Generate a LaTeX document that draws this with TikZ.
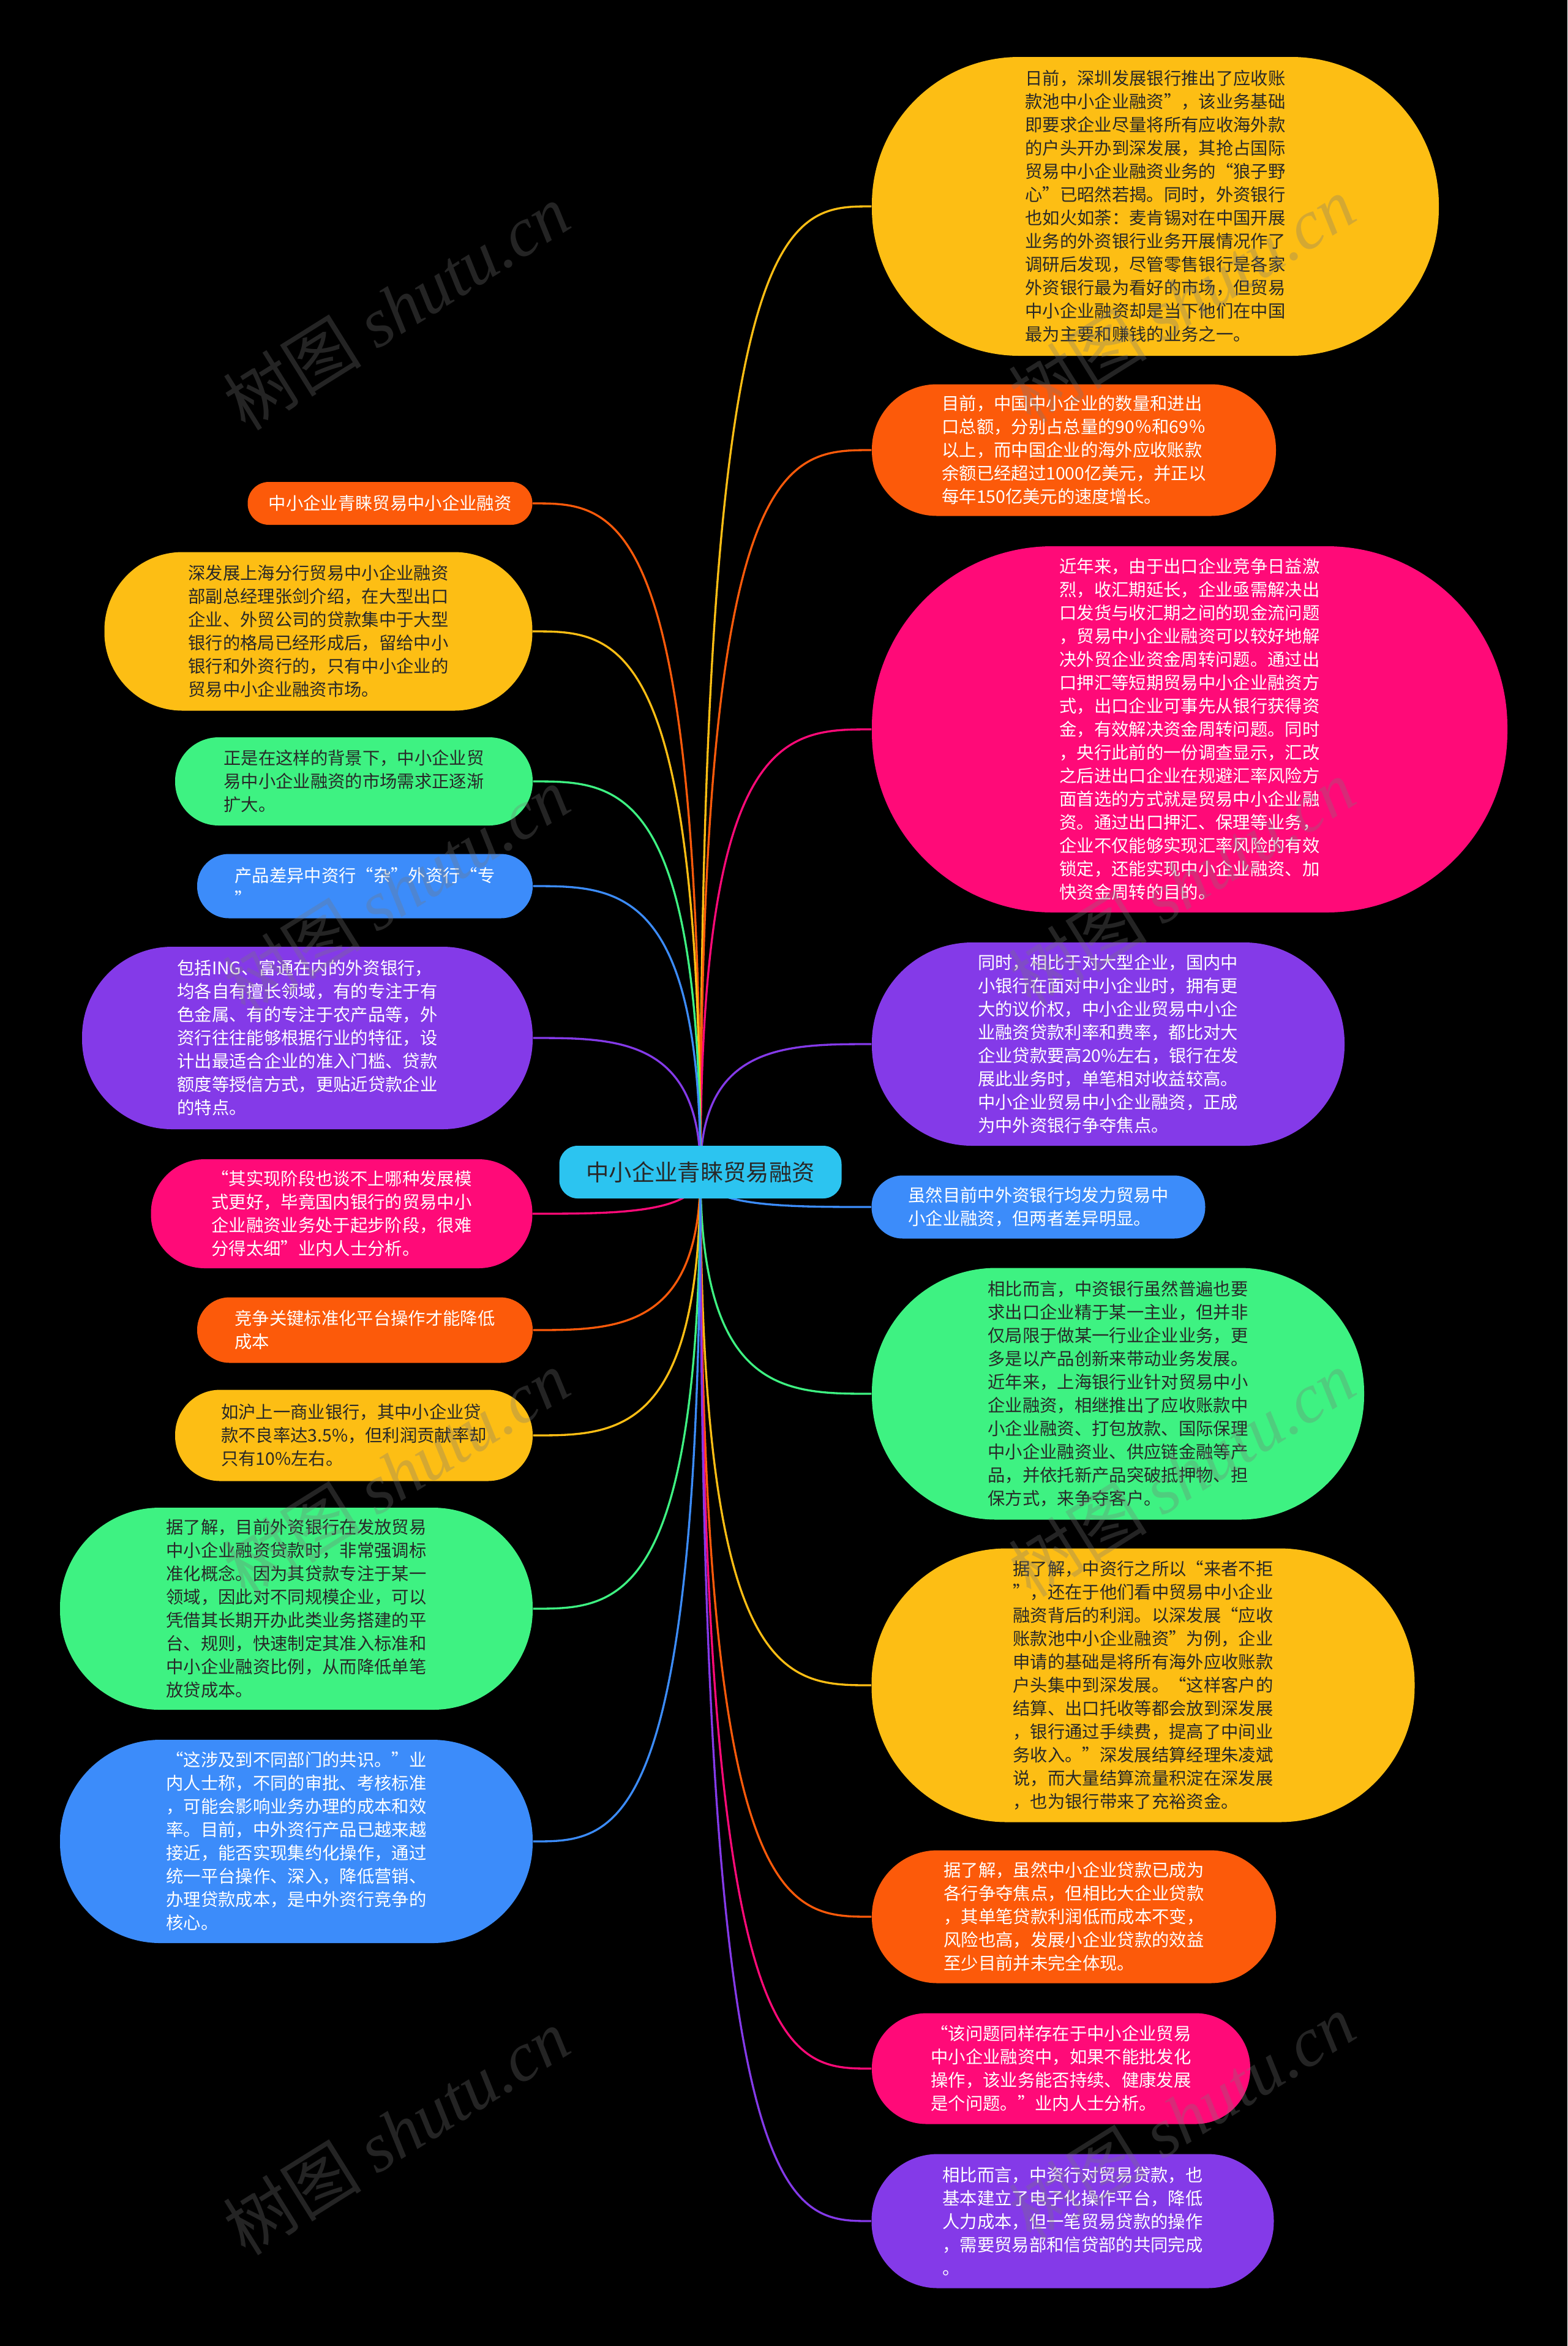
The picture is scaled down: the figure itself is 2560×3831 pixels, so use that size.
\documentclass[tikz,border=0pt]{standalone}
\usepackage{fontspec}
\setmainfont{Noto Sans CJK SC}
\newfontfamily\wmserif{Liberation Serif}
\usetikzlibrary{calc}
\definecolor{cyellow}{RGB}{253,190,20}
\definecolor{corange}{RGB}{252,90,10}
\definecolor{cpink}{RGB}{255,10,120}
\definecolor{cpurple}{RGB}{132,58,232}
\definecolor{cblue}{RGB}{60,140,250}
\definecolor{cgreen}{RGB}{62,242,130}
\definecolor{ccyan}{RGB}{44,196,240}
\definecolor{cdark}{RGB}{40,40,40}
\definecolor{cwm}{RGB}{120,120,120}
\pgfdeclarelayer{bg}
\pgfdeclarelayer{lines}
\pgfdeclarelayer{wm}
\pgfsetlayers{bg,lines,main,wm}
\begin{document}
\begin{tikzpicture}[x=0.3pt,y=-0.3pt,
  box/.style 2 args={rectangle, inner sep=0pt, minimum width=#1*0.3pt,
    minimum height=#2*0.3pt, rounded corners=#2*0.148pt, align=left,
    font=\fontsize{8.5pt}{11.4pt}\selectfont},
  yb/.style={fill=cyellow, text=cdark},
  ob/.style={fill=corange, text=white},
  pb/.style={fill=cpink, text=white},
  ub/.style={fill=cpurple, text=white},
  bb/.style={fill=cblue, text=white},
  gb/.style={fill=cgreen, text=cdark},
  conn/.style={line width=1pt},
  wmk/.style={rotate=32, text=cwm, opacity=0.3,
    font=\fontsize{34pt}{34pt}\selectfont}]
\begin{pgfonlayer}{bg}
\fill[black] (0,0) rectangle (2560,3831);
\end{pgfonlayer}
\useasboundingbox (0,0) rectangle (2560,3831);

% root
\node[rectangle, rounded corners=9pt, fill=ccyan, text=cdark, inner sep=0pt,
  minimum width=461*0.3pt, minimum height=86*0.3pt,
  font=\fontsize{11.2pt}{13pt}\selectfont] (root) at (1144,1914) {中小企业青睐贸易融资};

% right side
\node[box={926}{488}, yb] (R1) at (1887,337) {日前，深圳发展银行推出了应收账\\款池中小企业融资”，该业务基础\\即要求企业尽量将所有应收海外款\\的户头开办到深发展，其抢占国际\\贸易中小企业融资业务的“狼子野\\心”已昭然若揭。同时，外资银行\\也如火如荼：麦肯锡对在中国开展\\业务的外资银行业务开展情况作了\\调研后发现，尽管零售银行是各家\\外资银行最为看好的市场，但贸易\\中小企业融资却是当下他们在中国\\最为主要和赚钱的业务之一。};
\node[box={660}{215}, ob] (R2) at (1754,735) {目前，中国中小企业的数量和进出\\口总额，分别占总量的90％和69％\\以上，而中国企业的海外应收账款\\余额已经超过1000亿美元，并正以\\每年150亿美元的速度增长。};
\node[box={1038}{598}, pb] (R3) at (1943,1191) {近年来，由于出口企业竞争日益激\\烈，收汇期延长，企业亟需解决出\\口发货与收汇期之间的现金流问题\\，贸易中小企业融资可以较好地解\\决外贸企业资金周转问题。通过出\\口押汇等短期贸易中小企业融资方\\式，出口企业可事先从银行获得资\\金，有效解决资金周转问题。同时\\，央行此前的一份调查显示，汇改\\之后进出口企业在规避汇率风险方\\面首选的方式就是贸易中小企业融\\资。通过出口押汇、保理等业务，\\企业不仅能够实现汇率风险的有效\\锁定，还能实现中小企业融资、加\\快资金周转的目的。};
\node[box={772}{332}, ub] (R4) at (1810,1705) {同时，相比于对大型企业，国内中\\小银行在面对中小企业时，拥有更\\大的议价权，中小企业贸易中小企\\业融资贷款利率和费率，都比对大\\企业贷款要高20\%左右，银行在发\\展此业务时，单笔相对收益较高。\\中小企业贸易中小企业融资，正成\\为中外资银行争夺焦点。};
\node[box={545}{103}, bb] (R5) at (1696,1971) {虽然目前中外资银行均发力贸易中\\小企业融资，但两者差异明显。};
\node[box={804}{411}, gb] (R6) at (1826,2276) {相比而言，中资银行虽然普遍也要\\求出口企业精于某一主业，但并非\\仅局限于做某一行业企业业务，更\\多是以产品创新来带动业务发展。\\近年来，上海银行业针对贸易中小\\企业融资，相继推出了应收账款中\\小企业融资、打包放款、国际保理\\中小企业融资业、供应链金融等产\\品，并依托新产品突破抵押物、担\\保方式，来争夺客户。};
\node[box={887}{447}, yb] (R7) at (1867,2752) {据了解，中资行之所以“来者不拒\\”，还在于他们看中贸易中小企业\\融资背后的利润。以深发展“应收\\账款池中小企业融资”为例，企业\\申请的基础是将所有海外应收账款\\户头集中到深发展。“这样客户的\\结算、出口托收等都会放到深发展\\，银行通过手续费，提高了中间业\\务收入。”深发展结算经理朱凌斌\\说，而大量结算流量积淀在深发展\\，也为银行带来了充裕资金。};
\node[box={660}{217}, ob] (R8) at (1754,3130) {据了解，虽然中小企业贷款已成为\\各行争夺焦点，但相比大企业贷款\\，其单笔贷款利润低而成本不变，\\风险也高，发展小企业贷款的效益\\至少目前并未完全体现。};
\node[box={618}{181}, pb] (R9) at (1733,3378) {“该问题同样存在于中小企业贸易\\中小企业融资中，如果不能批发化\\操作，该业务能否持续、健康发展\\是个问题。”业内人士分析。};
\node[box={657}{219}, ub] (R10) at (1752,3627) {相比而言，中资行对贸易贷款，也\\基本建立了电子化操作平台，降低\\人力成本，但一笔贸易贷款的操作\\，需要贸易部和信贷部的共同完成\\。};

% left side
\node[box={465}{70}, ob] (L1) at (637,822) {中小企业青睐贸易中小企业融资};
\node[box={699}{259}, yb] (L2) at (520,1031) {深发展上海分行贸易中小企业融资\\部副总经理张剑介绍，在大型出口\\企业、外贸公司的贷款集中于大型\\银行的格局已经形成后，留给中小\\银行和外资行的，只有中小企业的\\贸易中小企业融资市场。};
\node[box={584}{144}, gb] (L3) at (578,1276) {正是在这样的背景下，中小企业贸\\易中小企业融资的市场需求正逐渐\\扩大。};
\node[box={548}{105}, bb] (L4) at (596,1447) {产品差异中资行“杂”外资行“专\\”};
\node[box={736}{298}, ub] (L5) at (502,1695) {包括ING、富通在内的外资银行，\\均各自有擅长领域，有的专注于有\\色金属、有的专注于农产品等，外\\资行往往能够根据行业的特征，设\\计出最适合企业的准入门槛、贷款\\额度等授信方式，更贴近贷款企业\\的特点。};
\node[box={623}{178}, pb] (L6) at (558,1982) {“其实现阶段也谈不上哪种发展模\\式更好，毕竟国内银行的贸易中小\\企业融资业务处于起步阶段，很难\\分得太细”业内人士分析。};
\node[box={548}{107}, ob] (L7) at (596,2172) {竞争关键标准化平台操作才能降低\\成本};
\node[box={584}{149}, yb] (L8) at (578,2344) {如沪上一商业银行，其中小企业贷\\款不良率达3.5\%，但利润贡献率却\\只有10\%左右。};
\node[box={772}{330}, gb] (L9) at (484,2627) {据了解，目前外资银行在发放贸易\\中小企业融资贷款时，非常强调标\\准化概念。因为其贷款专注于某一\\领域，因此对不同规模企业，可以\\凭借其长期开办此类业务搭建的平\\台、规则，快速制定其准入标准和\\中小企业融资比例，从而降低单笔\\放贷成本。};
\node[box={772}{332}, bb] (L10) at (484,3007) {“这涉及到不同部门的共识。”业\\内人士称，不同的审批、考核标准\\，可能会影响业务办理的成本和效\\率。目前，中外资行产品已越来越\\接近，能否实现集约化操作，通过\\统一平台操作、深入，降低营销、\\办理贷款成本，是中外资行竞争的\\核心。};

% connectors
\begin{pgfonlayer}{lines}
\foreach \n/\c in {R1/cyellow,R2/corange,R3/cpink,R4/cpurple,R5/cblue,R6/cgreen,R7/cyellow,R8/corange,R9/cpink,R10/cpurple}
  \draw[conn,\c] (root.center) .. controls (root.center |- \n.west) and ($(root.center |- \n.west)!0.5!(\n.west)$) .. (\n.west);
\foreach \n/\c in {L1/corange,L2/cyellow,L3/cgreen,L4/cblue,L5/cpurple,L6/cpink,L7/corange,L8/cyellow,L9/cgreen,L10/cblue}
  \draw[conn,\c] (root.center) .. controls (root.center |- \n.east) and ($(root.center |- \n.east)!0.5!(\n.east)$) .. (\n.east);
\end{pgfonlayer}

% watermarks
\begin{pgfonlayer}{wm}
\foreach \wx/\wy in {647/501,1930/489,647/1453,1930/1441,647/2406,1930/2406,647/3481,1930/3457}
  \node[wmk] at (\wx,\wy) {树图 {\wmserif\itshape shutu.cn}};
\end{pgfonlayer}
\end{tikzpicture}
\end{document}
